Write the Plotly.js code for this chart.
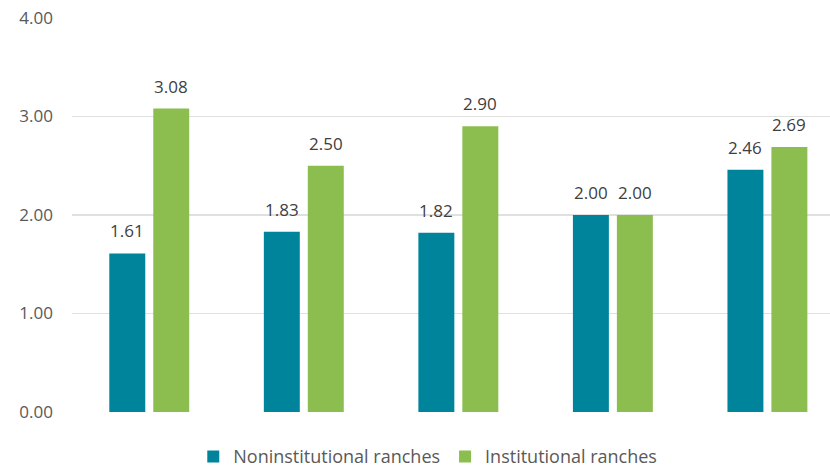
<!DOCTYPE html>
<html>
<head>
<meta charset="utf-8">
<script src="https://cdn.plot.ly/plotly-3.0.1.min.js"></script>
<style>html,body{margin:0;padding:0;background:#fff;}#chart{width:830px;height:467px;}</style>
</head>
<body>
<div id="chart"></div>
<script>
const categories = [0, 1, 2, 3, 4];
const nonInstitutional = [1.61, 1.83, 1.82, 2.00, 2.46];
const institutional = [3.08, 2.50, 2.90, 2.00, 2.69];
const seriesNames = ["Noninstitutional ranches", "Institutional ranches"];
const yTicks = [0, 1, 2, 3, 4];
const yTickLabels = ["0.00", "1.00", "2.00", "3.00", "4.00"];

const fontFam = "'Open Sans', sans-serif";
const colors = ['#00849c', '#8cbd4f'];
const series = [nonInstitutional, institutional];

const traces = series.map((vals, i) => ({
  type: 'bar', name: seriesNames[i], x: categories, y: vals,
  marker: {color: colors[i]}, hoverinfo: 'skip'
}));

const annotations = [];
series.forEach((vals, i) => {
  vals.forEach((v, j) => {
    annotations.push({
      x: categories[j], y: v, xref: 'x', yref: 'y',
      text: v.toFixed(2), showarrow: false,
      xshift: i === 0 ? -22 : 22, yshift: 9, yanchor: 'bottom',
      font: {family: fontFam, size: 17, color: '#404040'}
    });
  });
});

const layout = {
  width: 830, height: 467,
  margin: {l: 72, r: 0, t: 18, b: 55},
  paper_bgcolor: '#fff', plot_bgcolor: '#fff',
  font: {family: fontFam, color: '#595959', size: 17},
  barmode: 'group', bargap: 0.431, bargroupgap: 0.182,
  xaxis: {range: [-0.5, 4.405], showticklabels: false, showgrid: false, zeroline: false,
          showline: false, ticks: ''},
  yaxis: {range: [0, 4], tickvals: yTicks, ticktext: yTickLabels, showgrid: true,
          gridcolor: '#e0e0e0', gridwidth: 1.5, zeroline: false, showline: false,
          ticklabelstandoff: 18, tickfont: {family: fontFam, size: 17, color: '#595959'}},
  annotations: annotations,
  showlegend: true,
  legend: {orientation: 'h', x: 0.16, xanchor: 'left', xref: 'paper',
           y: 0.022, yanchor: 'middle', yref: 'container',
           font: {family: fontFam, size: 18, color: '#595959'},
           traceorder: 'normal'}
};
Plotly.newPlot('chart', traces, layout, {displayModeBar: false, staticPlot: true});
</script>
</body>
</html>
